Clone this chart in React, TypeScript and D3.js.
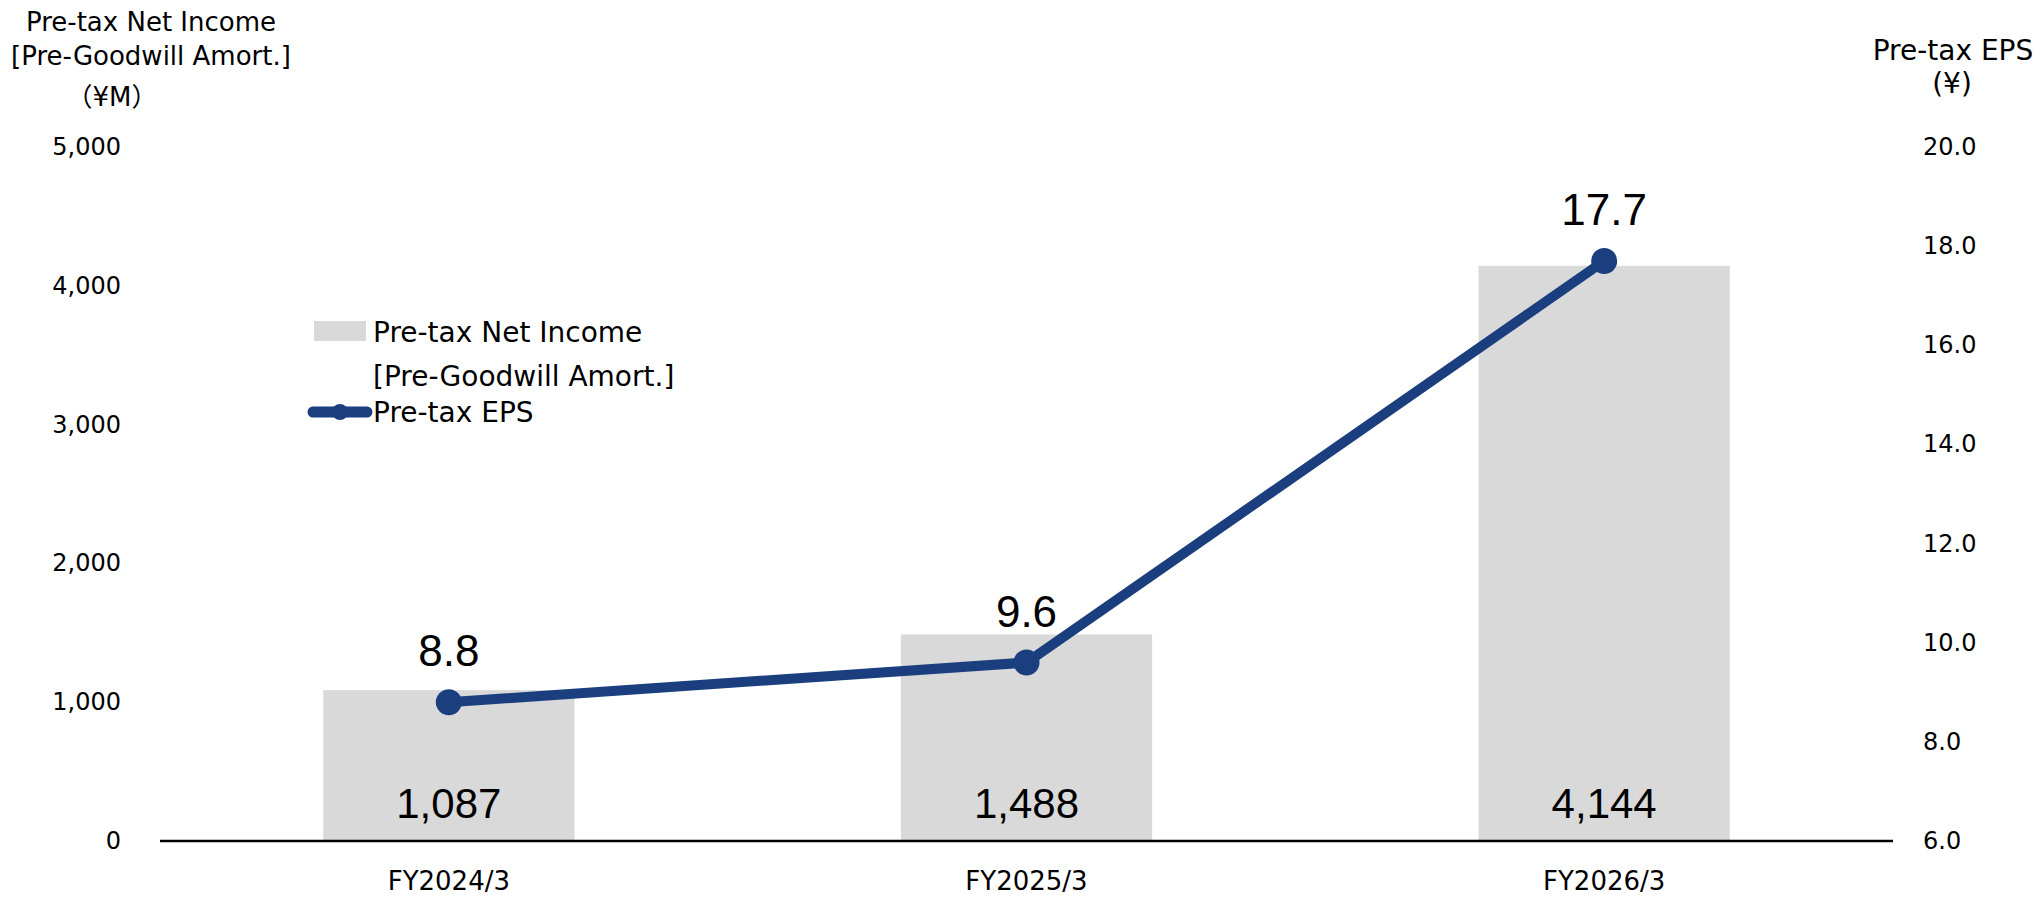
import React from "react";
import * as d3 from "d3";

const categories = ["FY2024/3", "FY2025/3", "FY2026/3"];
const netIncome = [1087, 1488, 4144];
const eps = [8.8, 9.6, 17.7];
const leftTicks = [0, 1000, 2000, 3000, 4000, 5000];
const rightTicks = [6, 8, 10, 12, 14, 16, 18, 20];

const W = 2044;
const H = 898;
const BAR = "#D9D9D9";
const LINE = "#1B3F7E";
const UI_FONT = "'DejaVu Sans', 'Noto Sans CJK JP', sans-serif";
const NUM_FONT = "'Liberation Sans', Arial, sans-serif";

export default function App() {
  const x = d3.scaleBand<string>().domain(categories).range([160, 1893]).padding(0);
  const yL = d3.scaleLinear().domain([0, 5000]).range([841, 147]);
  const yR = d3.scaleLinear().domain([6, 20]).range([841, 147]);
  const bw = x.bandwidth() * 0.435;
  const cx = (c: string) => (x(c) as number) + x.bandwidth() / 2;
  const fmt = d3.format(",");
  const line = d3
    .line<number>()
    .x((_, i) => cx(categories[i]))
    .y((d) => yR(d));

  return (
    <svg
      width={W}
      height={H}
      style={{ position: "absolute", left: 0, top: 0, background: "#fff" }}
    >
      {/* left title */}
      <g fontFamily={UI_FONT} fontSize={26} fill="#000" textAnchor="middle">
        <text x={151} y={22} dominantBaseline="central">Pre-tax Net Income</text>
        <text x={151} y={56} dominantBaseline="central">[Pre-Goodwill Amort.]</text>
        <text x={112} y={97} dominantBaseline="central">（¥M）</text>
      </g>
      {/* right title */}
      <g fontFamily={UI_FONT} fontSize={28} fill="#000" textAnchor="middle">
        <text x={1953} y={50} dominantBaseline="central">Pre-tax EPS</text>
        <text x={1952} y={83} dominantBaseline="central">(¥)</text>
      </g>

      {/* bars */}
      {categories.map((c, i) => (
        <rect
          key={c}
          x={cx(c) - bw / 2}
          y={yL(netIncome[i])}
          width={bw}
          height={yL(0) - yL(netIncome[i])}
          fill={BAR}
        />
      ))}

      {/* axis line */}
      <line x1={160} x2={1893} y1={yL(0)} y2={yL(0)} stroke="#000" strokeWidth={2.5} />

      {/* left ticks */}
      <g fontFamily={UI_FONT} fontSize={24} fill="#000" textAnchor="end">
        {leftTicks.map((t) => (
          <text key={t} x={121} y={yL(t)} dominantBaseline="central">
            {fmt(t)}
          </text>
        ))}
      </g>
      {/* right ticks */}
      <g fontFamily={UI_FONT} fontSize={24} fill="#000" textAnchor="start">
        {rightTicks.map((t) => (
          <text key={t} x={1923} y={yR(t)} dominantBaseline="central">
            {t.toFixed(1)}
          </text>
        ))}
      </g>
      {/* category labels */}
      <g fontFamily={UI_FONT} fontSize={26} fill="#000" textAnchor="middle">
        {categories.map((c) => (
          <text key={c} x={cx(c)} y={890}>
            {c}
          </text>
        ))}
      </g>

      {/* bar value labels */}
      <g fontFamily={NUM_FONT} fontSize={42} fill="#000" textAnchor="middle">
        {categories.map((c, i) => (
          <text key={c} x={cx(c)} y={818}>
            {fmt(netIncome[i])}
          </text>
        ))}
      </g>

      {/* EPS line */}
      <path d={line(eps) || ""} fill="none" stroke={LINE} strokeWidth={10} />
      {categories.map((c, i) => (
        <circle key={c} cx={cx(c)} cy={yR(eps[i])} r={13} fill={LINE} />
      ))}
      <g fontFamily={NUM_FONT} fontSize={44} fill="#000" textAnchor="middle">
        {categories.map((c, i) => (
          <text key={c} x={cx(c)} y={yR(eps[i]) - 36}>
            {eps[i].toFixed(1)}
          </text>
        ))}
      </g>

      {/* legend */}
      <rect x={314} y={321} width={52} height={20} fill={BAR} />
      <line x1={313} x2={367} y1={412} y2={412} stroke={LINE} strokeWidth={11} strokeLinecap="round" />
      <circle cx={340} cy={412} r={8} fill={LINE} />
      <g fontFamily={UI_FONT} fontSize={28} fill="#000">
        <text x={373} y={332} dominantBaseline="central">Pre-tax Net Income</text>
        <text x={373} y={376} dominantBaseline="central">[Pre-Goodwill Amort.]</text>
        <text x={373} y={412} dominantBaseline="central">Pre-tax EPS</text>
      </g>
    </svg>
  );
}
